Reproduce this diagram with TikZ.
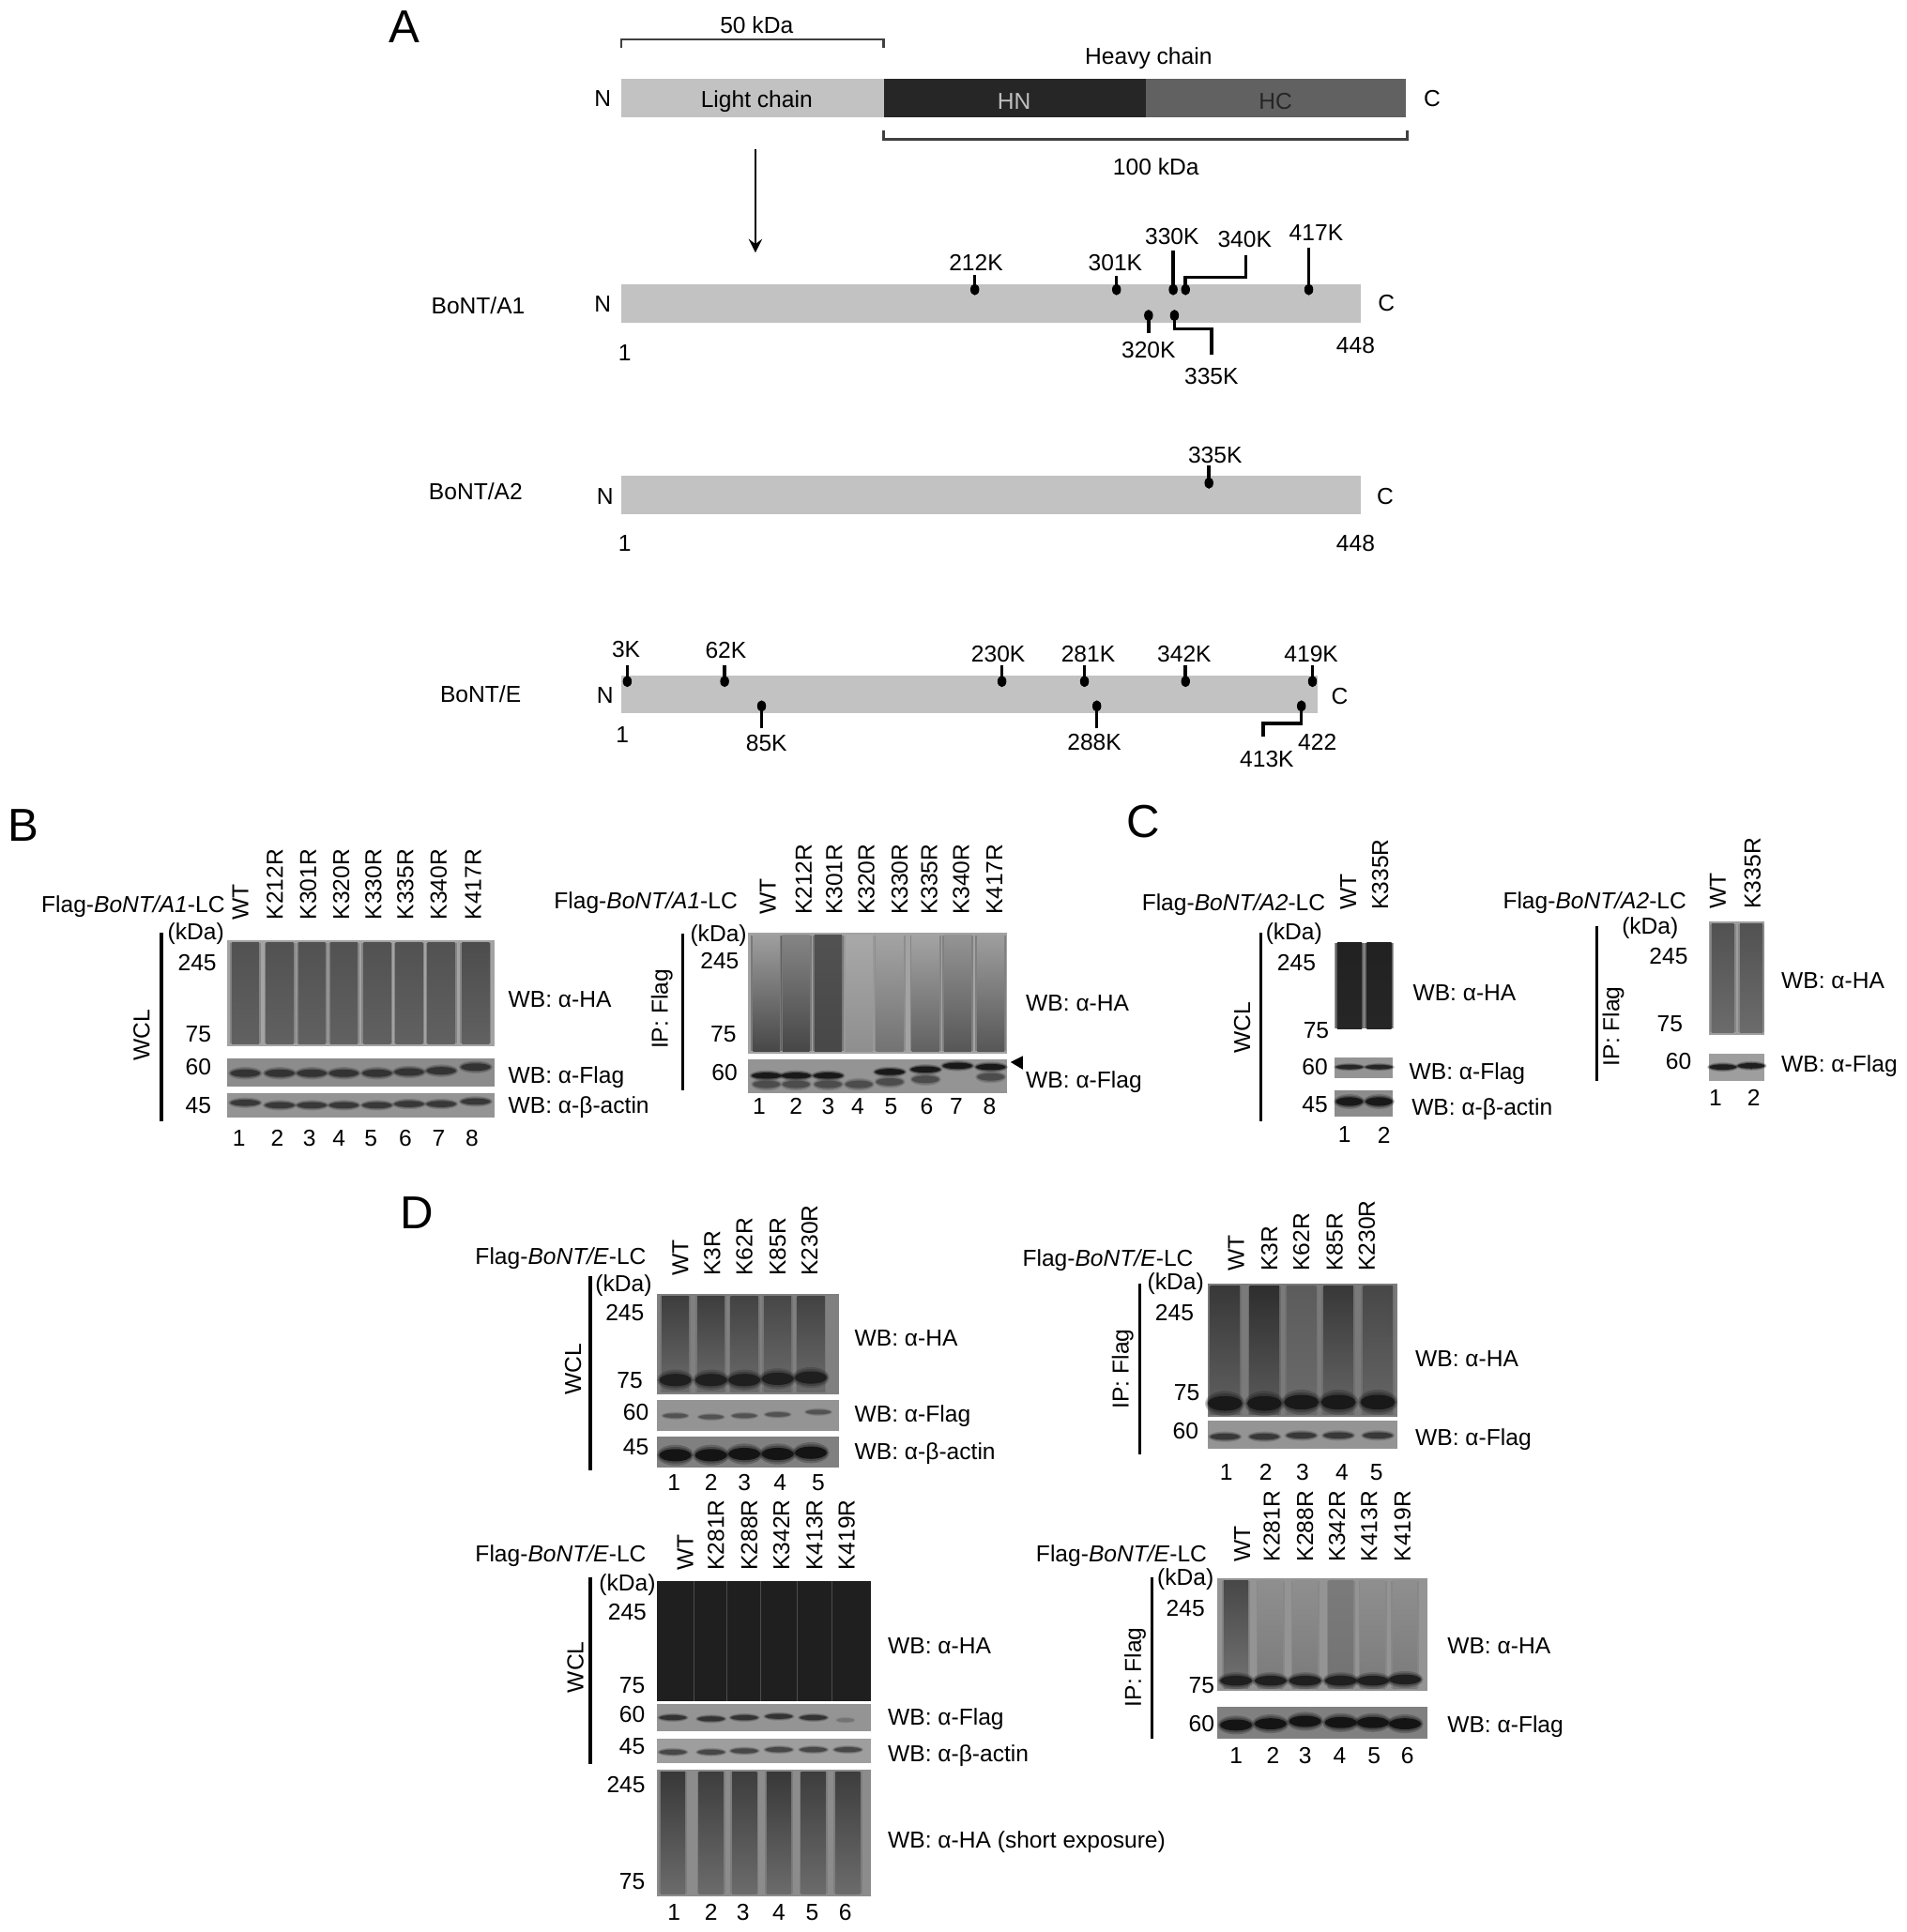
\documentclass[tikz,border=0pt]{standalone}
\usepackage{fontspec}
\setmainfont{Liberation Sans}
\tikzset{
  lbl/.style={inner sep=0pt, font=\fontsize{7}{8}\selectfont},
  marklbl/.style={lbl, yshift=-0.4pt},
  lanelbl/.style={lbl, rotate=90, anchor=west},
  sidelbl/.style={lbl, rotate=90},
  wblbl/.style={marklbl, anchor=west},
  panel/.style={inner sep=0pt, font=\fontsize{14}{16}\selectfont},
  pin/.style={line width=1pt, black},
  bracket/.style={line width=0.7pt, black!75},
  sideline/.style={line width=0.9pt, black}
}
% Rotated lane names, bottom end on one height
\newcommand{\lanenames}[3]{
  \foreach \x/\t [count=\i] in {#3} {\node[lanelbl] (#1-\i) at (\x,#2) {\t};}
}
% Lane numbers under a blot
\newcommand{\lanenums}[3]{
  \foreach \x [count=\i] in {#3} {\node[lbl] (#1-\i) at (\x,#2) {\i};}
}
% Size marks and WB captions
\newcommand{\sizemarks}[2]{
  \foreach \x/\y/\t [count=\i] in {#2} {\node[marklbl] (#1-\i) at (\x,\y) {\t};}
}
\newcommand{\wbcaps}[2]{
  \foreach \x/\y/\t [count=\i] in {#2} {\node[wblbl] (#1-\i) at (\x,\y) {\t};}
}
\newcommand{\flaglbl}[4]{\node[marklbl] (#1) at (#2,#3) {Flag-\textit{#4}-LC};}
% Smeared lanes: x/top colour/bottom colour
\newcommand{\lanes}[4]{
  \foreach \x/\a/\b in {#4} {
    \fill[\b, opacity=.45] (\x-#1-1.5,#2) rectangle (\x+#1+1.5,#3);
    \shade[top color=\a, bottom color=\b] (\x-#1,#2) rectangle (\x+#1,#3);
  }
}
% Bands: x/y
\newcommand{\bands}[4]{
  \foreach \x/\y in {#4} {
    \fill[#3, opacity=.25] (\x,\y) ellipse [x radius=#1*1.15, y radius=#2*1.7];
    \fill[#3, opacity=.35] (\x,\y) ellipse [x radius=#1*1.08, y radius=#2*1.35];
    \fill[#3] (\x,\y) ellipse [x radius=#1, y radius=#2];
  }
}
% Pins on the bars
\newcommand{\pintop}[3]{\draw[pin] (#1,#2) -- (#1,#3); \fill (#1,#3) ellipse [x radius=3.6, y radius=4.6];}

\begin{document}
\begin{tikzpicture}[x=0.013135cm, y=-0.013135cm]
\useasboundingbox (0,0) rectangle (1547,1568);

% Panel letters
\node[panel] (pa) at (328,22) {A};
\node[panel] (pb) at (19,670) {B};
\node[panel] (pc) at (928,667) {C};
\node[panel] (pd) at (338,984) {D};

% Whole toxin
\fill[black!24] (504,64) rectangle (717,95);
\fill[black!85] (717,64) rectangle (930,95);
\fill[black!62] (930,64) rectangle (1141,95);
\node[marklbl] (light) at (614,81) {Light chain};
\node[lbl, black!25] (hn) at (823,82) {HN};
\node[lbl, black!85] (hc) at (1035,82) {HC};
\draw[bracket] (504,39) -- (504,32) -- (717,32) -- (717,39);
\draw[bracket] (717,106) -- (717,113) -- (1142,113) -- (1142,106);
\sizemarks{top}{614/19/50 kDa, 932/46/Heavy chain, 938/134/100 kDa, 489/79/N, 1162/79/C}
\draw[line width=0.8pt, -stealth] (613,121) -- (613,205);

% BoNT/A1
\fill[black!24] (504,231) rectangle (1104,262);
\sizemarks{aone}{388/247/{BoNT/A1}, 489/246/N, 1125/245/C, 507/285/1, 1100/279/448, 792/212/212K, 905/212/301K, 951/191/330K, 1010/193/340K, 1068/188/417K, 932/283/320K, 983/304/335K}
\foreach \x/\y in {791/223, 906/224, 952/203, 1062/201} {\pintop{\x}{\y}{235}}
\pintop{932}{270}{256}
\draw[pin] (1011,207) -- (1011,225) -- (962,225) -- (962,235);
\fill (962,235) ellipse [x radius=3.6, y radius=4.6];
\draw[pin] (983,288) -- (983,267) -- (953,267) -- (953,256);
\fill (953,256) ellipse [x radius=3.6, y radius=4.6];

% BoNT/A2
\fill[black!24] (504,386) rectangle (1104,417);
\sizemarks{atwo}{386/398/{BoNT/A2}, 491/402/N, 1124/402/C, 507/440/1, 1100/440/448, 986/368/335K}
\pintop{981}{378}{392}

% BoNT/E
\fill[black!24] (504,548) rectangle (1069,579);
\sizemarks{ebar}{390/562/{BoNT/E}, 491/563/N, 1087/564/C, 505/595/1, 1069/601/422, 508/526/3K, 589/527/62K, 810/530/230K, 883/530/281K, 961/530/342K, 1064/530/419K, 622/602/85K, 888/601/288K, 1028/615/413K}
\foreach \x in {509,588,813,880,962,1065} {\pintop{\x}{540}{553}}
\foreach \x in {618,890} {\pintop{\x}{591}{573}}
\draw[pin] (1025,598) -- (1025,587) -- (1056,587) -- (1056,573);
\fill (1056,573) ellipse [x radius=3.6, y radius=4.6];

% B, whole cell lysate
\flaglbl{bwflag}{108}{735}{BoNT/A1}
\lanenames{bwlane}{747}{195/WT, 223/K212R, 250/K301R, 277/K320R, 303/K330R, 329/K335R, 356/K340R, 384/K417R}
\sizemarks{bwmark}{159/757/(kDa), 160/780/245, 161/838/75, 161/865/60, 161/896/45}
\draw[sideline] (131,757) -- (131,910);
\node[sidelbl] (bwcl) at (115,840) {WCL};
\fill[black!36] (184,763) rectangle (401,849);
\lanes{11}{765}{847}{199/black!68/black!62, 227/black!68/black!62, 253/black!68/black!62, 279/black!68/black!62, 306/black!68/black!62, 332/black!68/black!62, 358/black!68/black!62, 386/black!70/black!62}
\fill[black!45] (184,859) rectangle (401,882);
\bands{12}{3}{black!80}{199/871, 227/871, 253/871, 279/871, 306/871, 332/870, 358/869, 386/866}
\fill[black!42] (184,887) rectangle (401,907);
\bands{12}{2.5}{black!78}{199/895, 227/897, 253/897, 279/897, 306/897, 332/896, 358/896, 386/894}
\wbcaps{bwcap}{412/810/WB: α-HA, 412/873/WB: α-Flag, 412/898/WB: α-β-actin}
\lanenums{bwnum}{924}{194,225,251,275,301,329,356,383}

% B, immunoprecipitation
\flaglbl{bipflag}{524}{732}{BoNT/A1}
\lanenames{biplane}{743}{623/WT, 652/K212R, 677/K301R, 703/K320R, 730/K330R, 754/K335R, 780/K340R, 807/K417R}
\sizemarks{bipmark}{583/758/(kDa), 584/779/245, 587/838/75, 588/869/60}
\draw[sideline] (554,758) -- (554,885);
\node[sidelbl] (bip) at (537,819) {IP: Flag};
\fill[black!36] (607,757) rectangle (817,855);
\lanes{11}{759}{853}{622/black!38/black!72, 646/black!48/black!72, 672/black!68/black!72, 697/black!34/black!44, 722/black!36/black!55, 751/black!36/black!62, 777/black!42/black!66, 804/black!38/black!66}
\fill[black!42] (607,860) rectangle (817,887);
\bands{12}{2.5}{black!90}{622/873, 646/873, 672/873, 722/870, 751/868, 777/865, 804/866}
\bands{11}{3}{black!70}{622/880, 646/880, 672/880, 697/880, 722/878, 751/876, 804/874}
\fill (820,862) -- (830,857) -- (830,868) -- cycle;
\wbcaps{bipcap}{832/813/WB: α-HA, 832/877/WB: α-Flag}
\lanenums{bipnum}{898}{616,646,672,696,723,752,776,803}

% C, whole cell lysate
\flaglbl{cwflag}{1001}{733}{BoNT/A2}
\lanenames{cwlane}{739}{1094/WT, 1120/K335R}
\sizemarks{cwmark}{1050/757/(kDa), 1052/780/245, 1068/835/75, 1067/865/60, 1067/895/45}
\draw[sideline] (1023,757) -- (1023,910);
\node[sidelbl] (cwcl) at (1008,834) {WCL};
\fill[black!40] (1083,765) rectangle (1130,835);
\lanes{10}{765}{835}{1095/black!87/black!85, 1119/black!87/black!85}
\fill[black!42] (1083,858) rectangle (1130,875);
\bands{11}{1.8}{black!85}{1095/866, 1119/866}
\fill[black!45] (1083,885) rectangle (1130,906);
\bands{11}{3.5}{black!90}{1095/894, 1119/894}
\wbcaps{cwcap}{1146/805/WB: α-HA, 1143/870/WB: α-Flag, 1145/899/WB: α-β-actin}
\lanenums{cwnum}{921}{1091,1123}

% C, immunoprecipitation
\flaglbl{cipflag}{1294}{732}{BoNT/A2}
\lanenames{ciplane}{738}{1394/WT, 1422/K335R}
\sizemarks{cipmark}{1339/752/(kDa), 1354/775/245, 1355/830/75, 1362/860/60}
\draw[sideline] (1296,752) -- (1296,877);
\node[sidelbl] (cip) at (1309,833) {IP: Flag};
\fill[black!38] (1387,748) rectangle (1432,840);
\lanes{9}{750}{838}{1398/black!68/black!58, 1421/black!68/black!58}
\fill[black!38] (1387,855) rectangle (1432,877);
\bands{11}{2.2}{black!88}{1398/866, 1421/865}
\wbcaps{cipcap}{1445/795/WB: α-HA, 1445/864/WB: α-Flag}
\lanenums{cipnum}{891}{1392,1423}

% D, upper left
\flaglbl{dtwflag}{455}{1020}{BoNT/E}
\lanenames{dtwlane}{1036}{552/WT, 578/K3R, 604/K62R, 631/K85R, 657/K230R}
\sizemarks{dtwmark}{506/1042/(kDa), 507/1064/245, 511/1119/75, 516/1145/60, 516/1173/45}
\draw[sideline] (479,1036) -- (479,1193);
\node[sidelbl] (dtwcl) at (465,1111) {WCL};
\fill[black!50] (533,1050) rectangle (681,1132);
\lanes{11}{1052}{1130}{548/black!76/black!58, 577/black!76/black!58, 604/black!74/black!58, 631/black!72/black!58, 658/black!74/black!58}
\bands{13}{5}{black!88}{548/1120, 577/1120, 604/1120, 631/1119, 658/1118}
\fill[black!42] (533,1136) rectangle (681,1161);
\bands{10}{1.8}{black!68}{548/1149, 577/1150, 604/1149, 631/1148, 664/1146}
\fill[black!50] (533,1166) rectangle (681,1191);
\bands{13}{5}{black!92}{548/1181, 577/1181, 604/1180, 631/1180, 658/1179}
\wbcaps{dtwcap}{693/1085/WB: α-HA, 693/1148/WB: α-Flag, 693/1179/WB: α-β-actin}
\lanenums{dtwnum}{1203}{547,577,604,633,664}

% D, upper right
\flaglbl{dtipflag}{899}{1022}{BoNT/E}
\lanenames{dtiplane}{1032}{1003/WT, 1030/K3R, 1056/K62R, 1083/K85R, 1109/K230R}
\sizemarks{dtipmark}{954/1041/(kDa), 953/1064/245, 963/1129/75, 962/1160/60}
\draw[sideline] (925,1042) -- (925,1180);
\node[sidelbl] (dtip) at (911,1111) {IP: Flag};
\fill[black!52] (980,1042) rectangle (1134,1150);
\lanes{12}{1044}{1148}{994/black!78/black!62, 1026/black!82/black!64, 1056/black!64/black!58, 1086/black!78/black!60, 1118/black!72/black!60}
\bands{14}{6}{black!90}{994/1139, 1026/1139, 1056/1138, 1086/1138, 1118/1138}
\fill[black!42] (980,1153) rectangle (1134,1176);
\bands{12}{2.5}{black!78}{994/1166, 1026/1166, 1056/1165, 1086/1165, 1118/1165}
\wbcaps{dtipcap}{1148/1102/WB: α-HA, 1148/1167/WB: α-Flag}
\lanenums{dtipnum}{1195}{995,1027,1057,1089,1117}

% D, lower left
\flaglbl{dbwflag}{455}{1262}{BoNT/E}
\lanenames{dbwlane}{1275}{556/WT, 581/K281R, 608/K288R, 634/K342R, 661/K413R, 687/K419R}
\sizemarks{dbwmark}{509/1285/(kDa), 509/1307/245, 513/1367/75, 513/1390/60, 513/1416/45, 508/1447/245, 513/1526/75}
\draw[sideline] (479,1280) -- (479,1432);
\node[sidelbl] (dbwcl) at (467,1353) {WCL};
\fill[black!88] (533,1283) rectangle (707,1381);
\foreach \x in {563,590,617,647,675} {\draw[black!70, line width=0.2pt] (\x,1283) -- (\x,1381);}
\fill[black!42] (533,1383) rectangle (707,1405);
\bands{11}{2}{black!80}{546/1394, 577/1395, 604/1394, 632/1393, 660/1394}
\bands{7}{1.5}{black!55}{686/1396}
\fill[black!38] (533,1411) rectangle (707,1431);
\bands{11}{2}{black!72}{546/1422, 577/1422, 604/1421, 632/1420, 660/1420, 688/1420}
\fill[black!45] (533,1436) rectangle (707,1539);
\lanes{10}{1438}{1537}{546/black!78/black!58, 577/black!76/black!58, 604/black!76/black!58, 632/black!78/black!58, 660/black!76/black!58, 688/black!76/black!58}
\wbcaps{dbwcap}{720/1335/WB: α-HA, 720/1394/WB: α-Flag, 720/1424/WB: α-β-actin, 720/1494/WB: α-HA (short exposure)}
\lanenums{dbwnum}{1552}{547,577,603,632,659,686}

% D, lower right
\flaglbl{dbipflag}{910}{1262}{BoNT/E}
\lanenames{dbiplane}{1268}{1008/WT, 1032/K281R, 1059/K288R, 1085/K342R, 1111/K413R, 1138/K419R}
\sizemarks{dbipmark}{962/1281/(kDa), 962/1304/245, 975/1367/75, 975/1398/60}
\draw[sideline] (935,1280) -- (935,1411);
\node[sidelbl] (dbip) at (921,1353) {IP: Flag};
\fill[black!42] (988,1281) rectangle (1158,1372);
\lanes{10}{1283}{1370}{1003/black!72/black!55, 1031/black!44/black!52, 1059/black!44/black!52, 1088/black!52/black!55, 1114/black!44/black!52, 1140/black!44/black!52}
\bands{13}{4}{black!88}{1003/1364, 1031/1364, 1059/1364, 1088/1364, 1114/1364, 1140/1363}
\fill[black!50] (988,1385) rectangle (1158,1411);
\bands{13}{4.5}{black!92}{1003/1400, 1031/1399, 1059/1397, 1088/1398, 1114/1398, 1140/1399}
\wbcaps{dbipcap}{1174/1335/WB: α-HA, 1174/1400/WB: α-Flag}
\lanenums{dbipnum}{1425}{1003,1033,1059,1087,1115,1142}
\end{tikzpicture}
\end{document}
